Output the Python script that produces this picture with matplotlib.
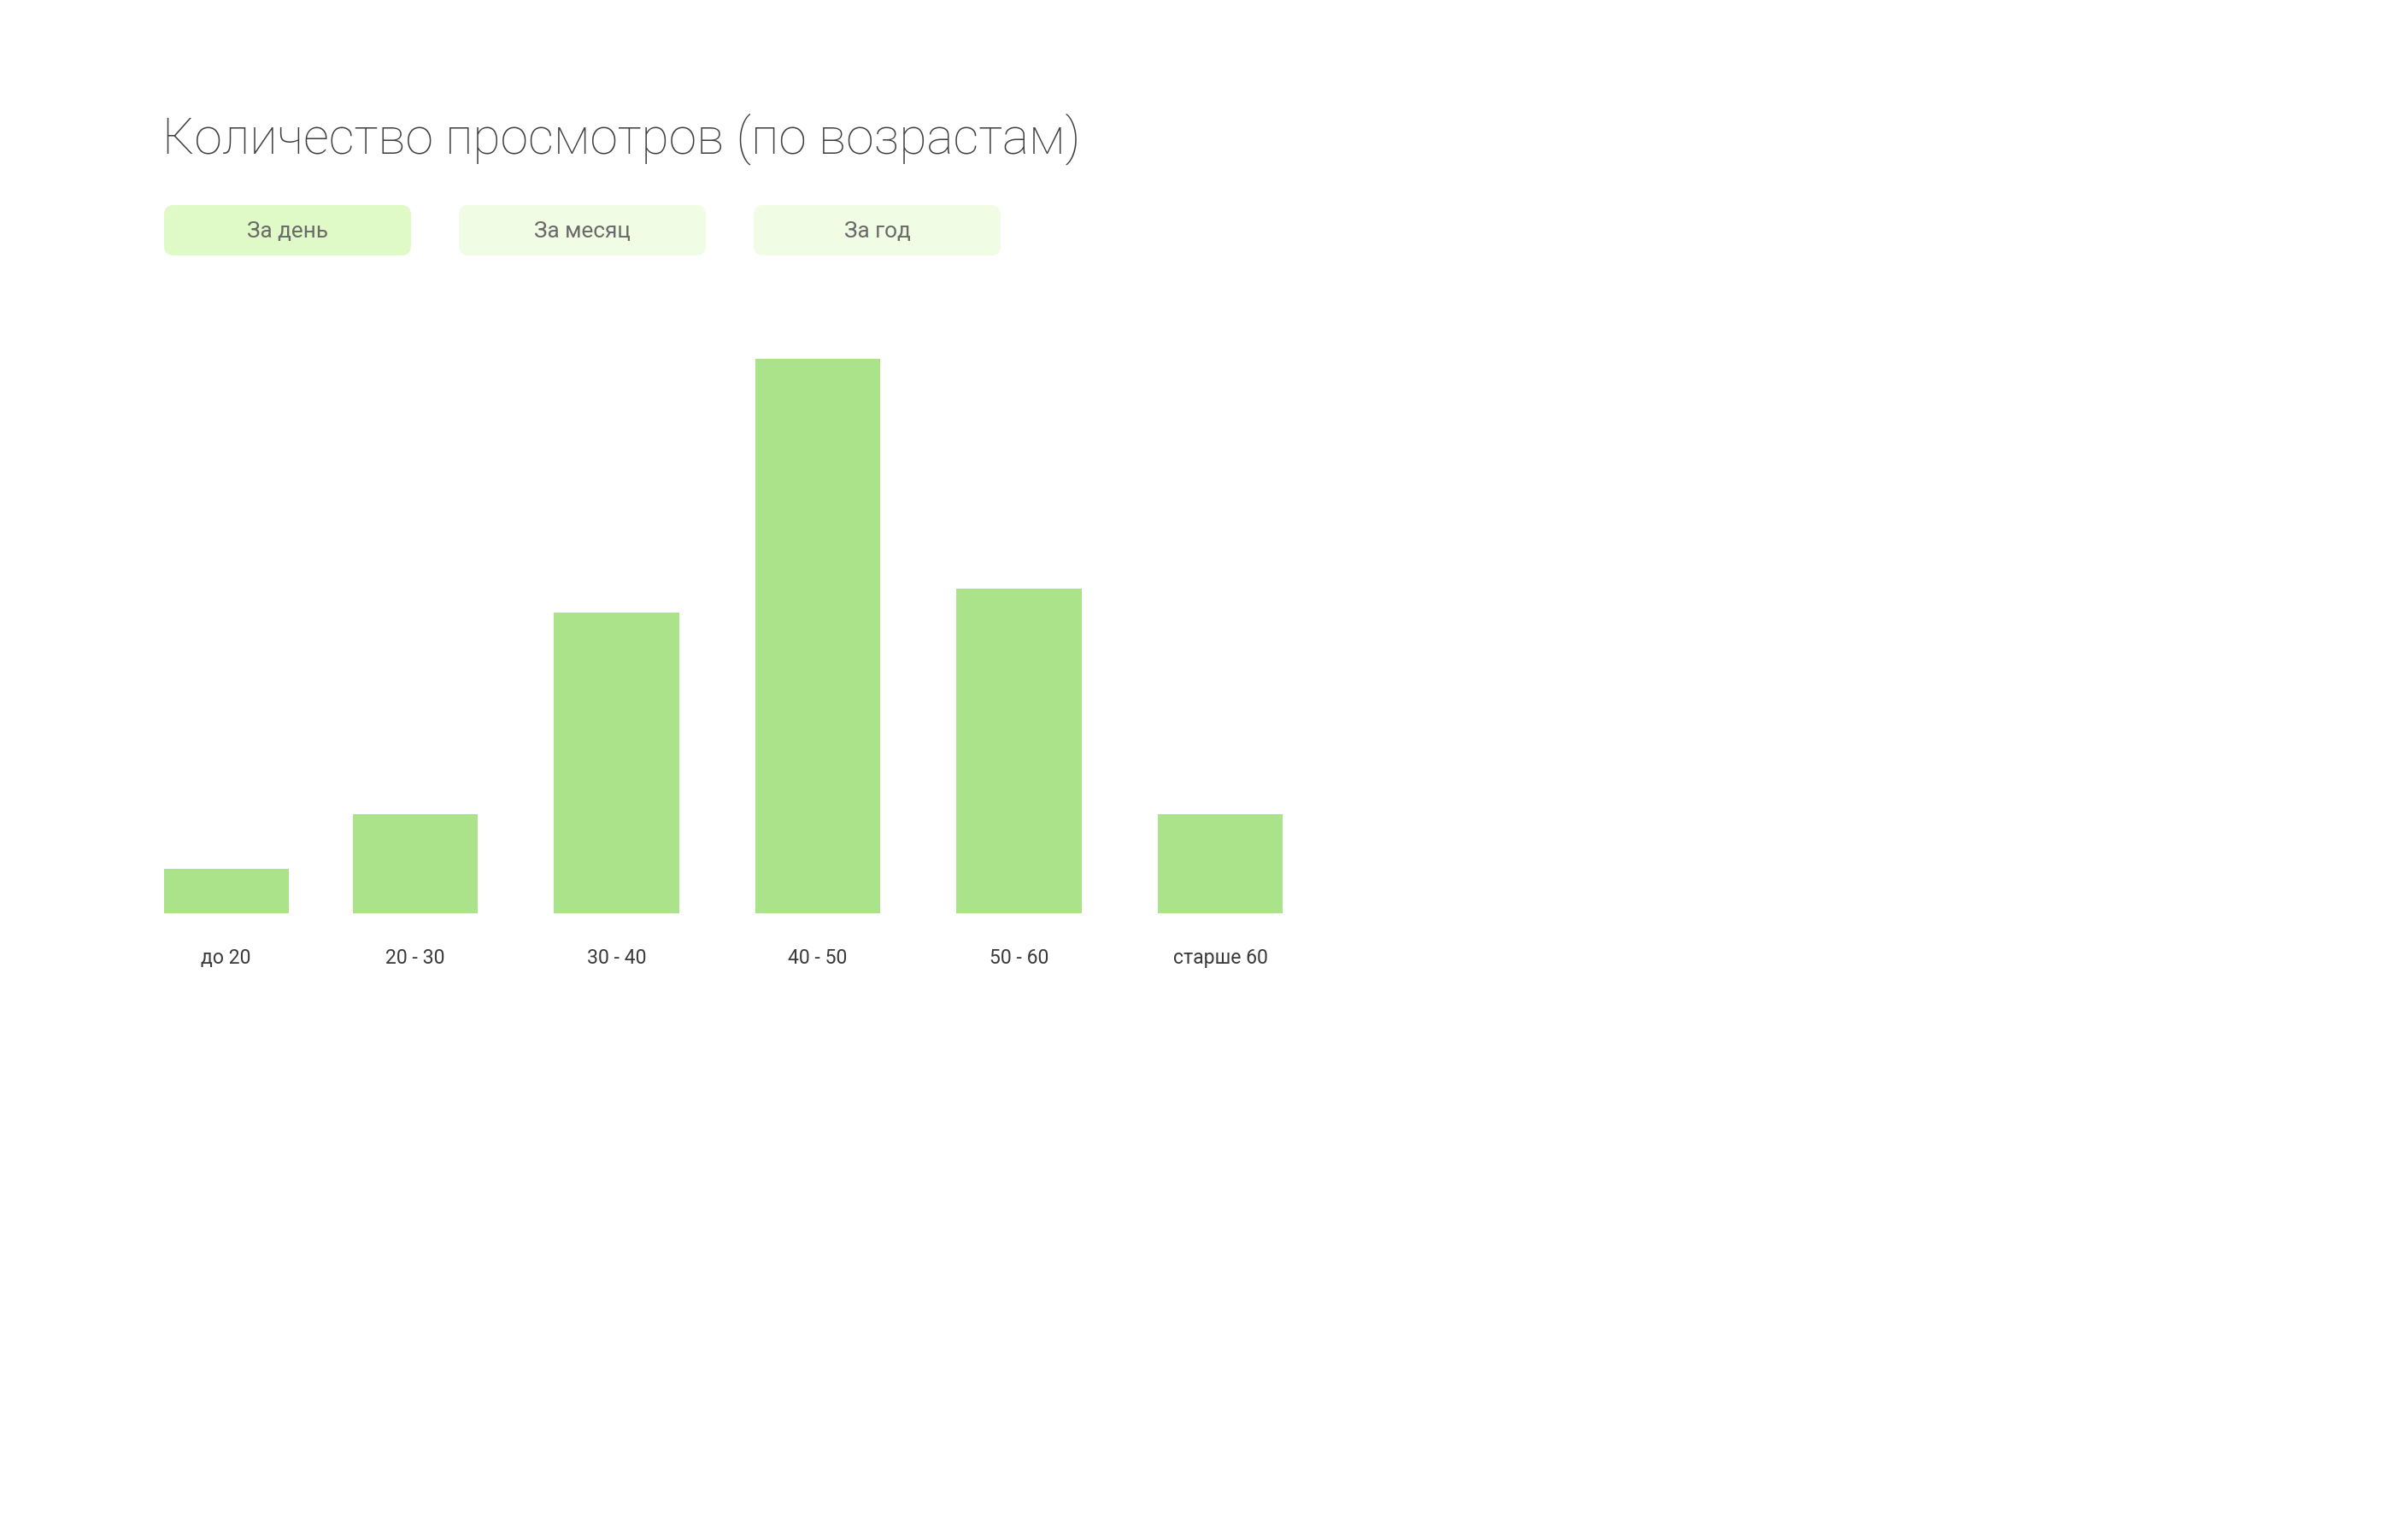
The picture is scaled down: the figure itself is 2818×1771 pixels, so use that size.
import numpy as np
import matplotlib.pyplot as plt
from matplotlib.patches import FancyBboxPatch

# data
age_groups = ["до 20", "20 - 30", "30 - 40", "40 - 50", "50 - 60", "старше 60"]
views = [8, 17.8, 54.2, 100, 58.5, 17.8]
periods = ["За день", "За месяц", "За год"]
title = "Количество просмотров (по возрастам)"

W, H = 2818, 1771
plt.rcParams['font.family'] = ['Roboto', 'DejaVu Sans']

fig = plt.figure(figsize=(W / 100, H / 100), dpi=100)
fig.patch.set_facecolor("white")

# bar area: spans full width so x data units map to pixels simply
ax = fig.add_axes([0, 1 - 1069 / H, 1, (1069 - 420) / H])
pos = np.arange(len(age_groups), dtype=float)
pos[0] += 0.06
ax.bar(pos, views, width=0.62, color="#abe38b", linewidth=0)
ax.set_xlim(-250.5 / 235.5, (W - 250.5) / 235.5)
ax.set_ylim(0, max(views))
ax.axis("off")

for x, lab in zip(pos, age_groups):
    ax.annotate(lab, (x, 0), xytext=(0, -42.5), textcoords="offset points",
                ha="center", va="baseline", fontsize=16.6,
                color="#3a3a3a")

# title
fig.text(190 / W, 1 - 179 / H, title, fontsize=42.4, fontweight="light",
         color="#404040", ha="left", va="baseline")

# period buttons
btn_left = [192, 537, 882]
btn_colors = ["#dffac6", "#f0fde4", "#f0fde4"]
bw, bh, btop = 289, 59, 240
for left, name, c in zip(btn_left, periods, btn_colors):
    box = FancyBboxPatch((left / W, 1 - (btop + bh) / H), bw / W, bh / H,
                         boxstyle="round,pad=0,rounding_size=0.004",
                         transform=fig.transFigure, facecolor=c,
                         edgecolor="none", mutation_aspect=W / H)
    fig.patches.append(box)
    fig.text((left + bw / 2) / W, 1 - (btop + bh / 2 + 1) / H, name,
             fontsize=18.8, color="#6a6a6a",
             ha="center", va="center")

fig.savefig("out.png", dpi=100, facecolor="white")
